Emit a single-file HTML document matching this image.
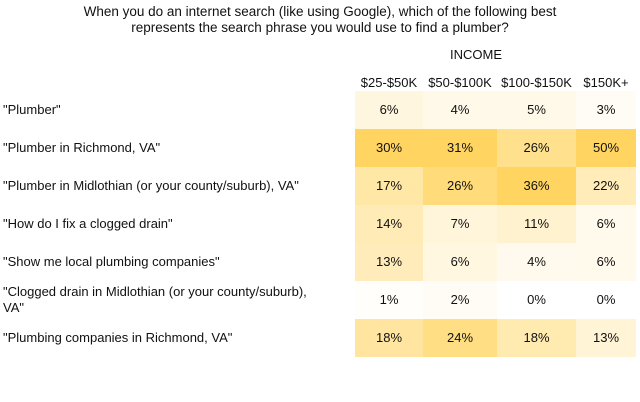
<!DOCTYPE html>
<html><head><meta charset="utf-8"><style>
body{margin:0;width:640px;height:402px;background:#fff;font-family:"Liberation Sans",sans-serif;color:#111;overflow:hidden;position:relative}
.t{position:absolute;font-size:13px;white-space:nowrap}
</style></head><body>
<div class="t" style="left:0;width:640px;top:4px;text-align:center;line-height:16px;font-size:13.5px">When you do an internet search (like using Google), which of the following best<br>represents the search phrase you would use to find a plumber?</div>
<div class="t" style="left:450px;top:47px;font-size:13px">INCOME</div>
<div id="grid"></div>
<script>
const categories=["\"Plumber\"","\"Plumber in Richmond, VA\"","\"Plumber in Midlothian (or your county/suburb), VA\"","\"How do I fix a clogged drain\"","\"Show me local plumbing companies\"","\"Clogged drain in Midlothian (or your county/suburb),<br>VA\"","\"Plumbing companies in Richmond, VA\""];
const columns=["$25-$50K","$50-$100K","$100-$150K","$150K+"];
const c1=[6,30,17,14,13,1,18];
const c2=[4,31,26,7,6,2,24];
const c3=[5,26,36,11,4,0,18];
const c4=[3,50,22,6,6,0,13];
const series=[c1,c2,c3,c4];
const colX=[355,423,497,576,636];
const top0=91,rh=38;
const g=document.getElementById('grid');
function mk(cls,name,html,style){const d=document.createElement('div');d.className=cls;


d.innerHTML=html;d.style.cssText=style;g.appendChild(d);return d;}
columns.forEach((c,j)=>{mk('t','column-header',c,`left:${colX[j]}px;width:${colX[j+1]-colX[j]}px;text-align:center;top:75px`);});
categories.forEach((c,i)=>{const two=c.includes('<br>');
mk('t','row-label',c,`left:3px;top:${top0+i*rh+(two?3:11)}px;line-height:16px`);});
series.forEach((s,j)=>{const mx=Math.max(...s);
s.forEach((v,i)=>{const f=v/mx;const r=255,gg=Math.round(255-(255-212)*f),b=Math.round(255-(255-96)*f);
mk('t','heat-cell',v+'%',`left:${colX[j]}px;width:${colX[j+1]-colX[j]}px;top:${top0+i*rh}px;height:${rh}px;line-height:${rh}px;text-align:center;background:rgb(${r},${gg},${b})`);});});
</script>
</body></html>
